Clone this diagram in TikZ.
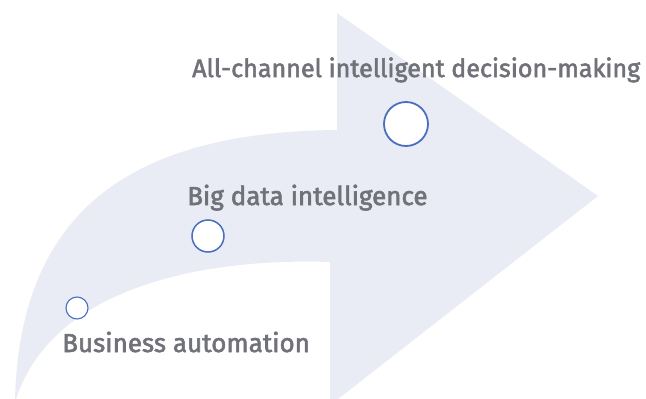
\documentclass[tikz,border=0pt]{standalone}
\usepackage{fontspec}
\setmainfont{Fira Sans}[FakeBold=2.2]
\definecolor{arrowfill}{HTML}{E9EBF5}
\definecolor{ringblue}{HTML}{4A6FC1}
\definecolor{labelgray}{HTML}{717179}
\begin{document}
\begin{tikzpicture}[x=1pt,y=-1pt,
  ring/.style={circle,draw=ringblue,fill=white,inner sep=0pt},
  label/.style={anchor=base west,inner sep=0pt,text=labelgray,font=\fontsize{26}{30}\selectfont}]
\useasboundingbox (0,0) rectangle (646,399);
\fill[arrowfill] (15,399) .. controls (20,220) and (120,132) .. (337,130)
  -- (337,13) -- (598,196) -- (338,399) -- (330,399) -- (330,262)
  .. controls (220,258) and (55,280) .. (16,399) -- cycle;
\node[ring,minimum size=44pt,line width=1.8pt] (c3) at (406,124) {};
\node[ring,minimum size=32pt,line width=1.5pt] (c2) at (208,236) {};
\node[ring,minimum size=22pt,line width=1.1pt] (c1) at (77,308) {};
\node[label,font=\fontsize{25.1}{30}\selectfont] (t3) at (192,77) {All-channel intelligent decision-making};
\node[label] (t2) at (187,205) {Big data intelligence};
\node[label] (t1) at (62,352) {Business automation};
\end{tikzpicture}
\end{document}
